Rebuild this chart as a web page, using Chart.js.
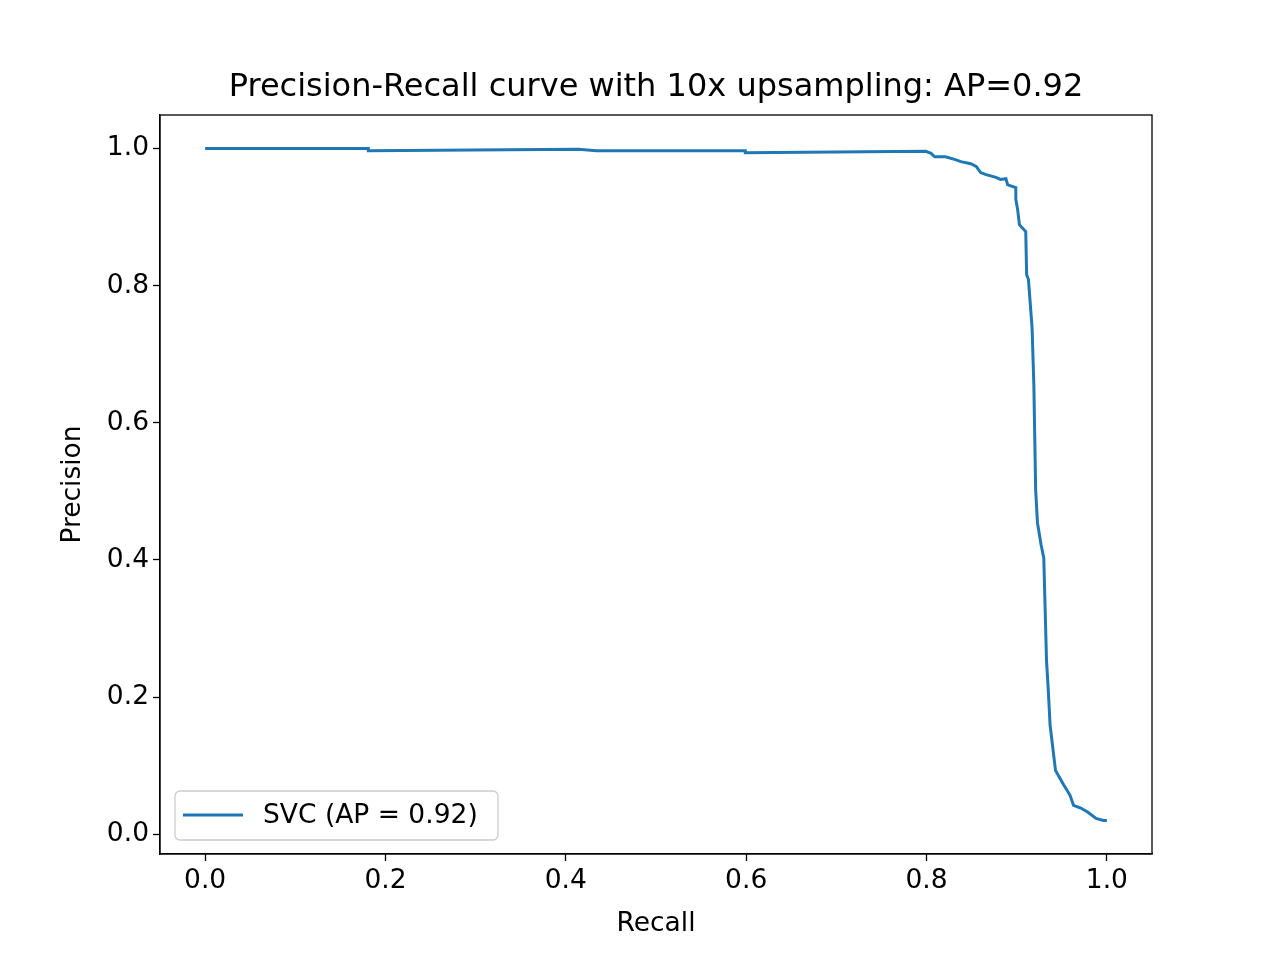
<!DOCTYPE html>
<html>
<head>
<meta charset="utf-8">
<script src="https://cdn.jsdelivr.net/npm/chart.js@4"></script>
<style>
  body { margin: 0; background: #fff; }
  #wrap { width: 1280px; height: 960px; }
</style>
</head>
<body>
<div id="wrap"><canvas id="pr"></canvas></div>
<script>
// recall / precision
const recall = [0, .181, .181, .414, .434, .599, .599, .799, .805, .809, .821, .832, .838, .849, .855, .860, .866, .877, .882, .888, .890,
  .899, .899, .901, .903, .905, .910, .911, .913, .917, .919, .921, .923, .927, .930, .933, .935, .937, .943, .949, .952, .959, .963, .971, .979, .988, .996, 1.0]
const precision = [1.0, 1.0, .997, .999, .997, .997, .994, .996, .993, .988, .988, .984, .981, .978, .974, .965, .962, .958, .955, .956, .947,
  .943, .926, .911, .889, .886, .879, .816, .809, .739, .655, .502, .454, .422, .403, .254, .210, .159, .093, .079, .072, .057, .042, .038, .032, .023, .020, .020]
const ticks = [0, 0.2, 0.4, 0.6, 0.8, 1.0]
const seriesLabel = "SVC (AP = 0.92)"
const titleText = "Precision-Recall curve with 10x upsampling: AP=0.92"

const blue = "#1f77b4"
const font = "DejaVu Sans"
const fsize = 26.5

const points = recall.map((r, i) => ({ x: r, y: precision[i] }))

function axis(min, max, title, size) {
    return {
        type: "linear",
        min: min,
        max: max,
        afterBuildTicks: a => { a.ticks = ticks.map(v => ({ value: v })) },
        afterFit: a => { if (a.isHorizontal()) a.height = size; else a.width = size },
        ticks: { color: "#000", font: { family: font, size: fsize }, padding: 4, callback: v => v.toFixed(1) },
        grid: { drawOnChartArea: false, tickLength: 7, color: "#000", tickWidth: 1.3 },
        border: { color: "#000", width: 1.3 },
        title: { display: true, text: title, color: "#000", font: { family: font, size: fsize }, padding: 0 }
    }
}

// frame, title over the plot area, legend box in the lower left
const framePlugin = {
    id: "frame",
    afterDraw(chart) {
        const c = chart.ctx, a = chart.chartArea
        c.save()
        c.strokeStyle = "#000"
        c.lineWidth = 1.3
        c.strokeRect(a.left, a.top, a.right - a.left, a.bottom - a.top)

        c.fillStyle = "#000"
        c.font = "32px '" + font + "'"
        c.textAlign = "center"
        c.textBaseline = "middle"
        c.fillText(titleText, (a.left + a.right) / 2, a.top - 27)

        const bx = a.left + 15, by = a.bottom - 63, bw = 323, bh = 49
        c.fillStyle = "rgba(255,255,255,0.8)"
        c.strokeStyle = "#ccc"
        c.beginPath()
        c.roundRect(bx, by, bw, bh, 5)
        c.fill(); c.stroke()
        c.strokeStyle = blue
        c.lineWidth = 3
        c.beginPath(); c.moveTo(bx + 8, by + 24); c.lineTo(bx + 68, by + 24); c.stroke()
        c.fillStyle = "#000"
        c.font = fsize + "px '" + font + "'"
        c.textAlign = "left"
        c.fillText(seriesLabel, bx + 88, by + 25)
        c.restore()
    }
}

new Chart(document.getElementById("pr"), {
    type: "scatter",
    data: {
        datasets: [{
            label: seriesLabel,
            data: points,
            showLine: true,
            borderColor: blue,
            borderWidth: 3,
            pointRadius: 0,
            tension: 0
        }]
    },
    options: {
        responsive: true,
        maintainAspectRatio: false,
        animation: false,
        layout: { padding: { left: 57, right: 128, top: 115, bottom: 20 } },
        scales: {
            x: axis(-0.05, 1.05, "Recall", 86),
            y: axis(-0.029, 1.049, "Precision", 103)
        },
        plugins: {
            legend: { display: false },
            tooltip: { enabled: false },
            title: { display: false }
        }
    },
    plugins: [framePlugin]
})
</script>
</body>
</html>
